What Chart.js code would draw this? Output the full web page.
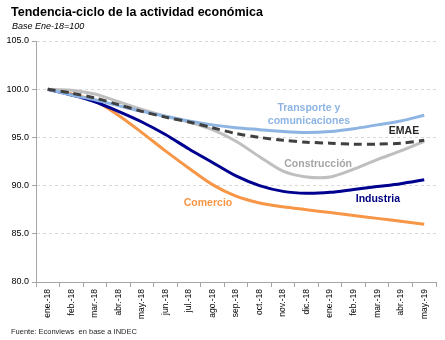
<!DOCTYPE html>
<html>
<head>
<meta charset="utf-8">
<script src="https://cdn.jsdelivr.net/npm/chart.js@4.4.1/dist/chart.umd.min.js"></script>
<style>
  html, body { margin: 0; padding: 0; background: #fff; }
  #wrap { width: 445px; height: 340px; }
</style>
</head>
<body>
<div id="wrap"><canvas id="chart" width="445" height="340"></canvas></div>
<script>
// meses
const months = ['ene.-18','feb.-18','mar.-18','abr.-18','may.-18','jun.-18','jul.-18','ago.-18',
  'sep.-18','oct.-18','nov.-18','dic.-18','ene.-19','feb.-19','mar.-19','abr.-19','may.-19'];

// series (base ene-18 = 100)
const emae        = [100, 99.6, 99.1, 98.4, 97.7, 97.1, 96.6, 96.0, 95.4, 95.0, 94.7, 94.5, 94.4, 94.3, 94.3, 94.4, 94.7];
const transporte  = [100, 99.4, 98.9, 98.3, 97.7, 97.2, 96.7, 96.3, 96.0, 95.8, 95.6, 95.5, 95.6, 95.9, 96.3, 96.7, 97.3];
const construccion= [100, 99.9, 99.5, 98.7, 97.9, 97.2, 96.6, 95.8, 94.6, 93.0, 91.5, 90.9, 90.9, 91.7, 92.7, 93.6, 94.6];
const industria   = [100, 99.4, 98.7, 97.7, 96.6, 95.3, 93.8, 92.4, 91.0, 90.0, 89.4, 89.2, 89.3, 89.6, 89.9, 90.2, 90.6];
const comercio    = [100, 99.5, 98.8, 97.3, 95.5, 93.6, 91.8, 90.1, 88.9, 88.2, 87.8, 87.5, 87.2, 86.9, 86.6, 86.3, 86.0];

const yTicks = [80, 85, 90, 95, 100, 105];

// etiquetas de las series (posicion en unidades del grafico)
const seriesLabels = [
  { text: ['Transporte y', 'comunicaciones'], x: 11.1, y: 98.05, color: '#8DB4E2' },
  { text: ['EMAE'], x: 15.14, y: 95.66, color: '#262626' },
  { text: ['Construcción'], x: 11.49, y: 92.24, color: '#A6A6A6' },
  { text: ['Comercio'], x: 6.81, y: 88.2, color: '#F79646' },
  { text: ['Industria'], x: 14.03, y: 88.6, color: '#000080' }
];

const FONT = "'Liberation Sans', Arial, sans-serif";

const textPlugin = {
  id: 'textos',
  afterDatasetsDraw(chart) {
    const ctx = chart.ctx;
    const xs = chart.scales.x, ys = chart.scales.y;
    ctx.save();
    ctx.textBaseline = 'middle';
    ctx.textAlign = 'center';
    ctx.font = 'bold 10.5px ' + FONT;
    seriesLabels.forEach(function(l) {
      const px = xs.getPixelForValue(l.x);
      const py = ys.getPixelForValue(l.y);
      l.text.forEach(function(t, i) {
        ctx.fillStyle = l.color;
        ctx.fillText(t, px, py + i * 12.7);
      });
    });
    ctx.restore();
  },
  afterDraw(chart) {
    const ctx = chart.ctx;
    ctx.save();
    ctx.textBaseline = 'middle';
    ctx.textAlign = 'left';
    ctx.fillStyle = '#000';
    ctx.font = 'bold 12.5px ' + FONT;
    ctx.fillText('Tendencia-ciclo de la actividad económica', 11, 13);
    ctx.font = 'italic 9px ' + FONT;
    ctx.fillText('Base Ene-18=100', 12, 26.5);
    ctx.font = '7.5px ' + FONT;
    ctx.fillStyle = '#1f1f1f';
    ctx.fillText('Fuente: Econviews  en base a INDEC', 11, 332);
    ctx.restore();
  }
};

function serie(label, data, color, dash) {
  return {
    label: label,
    data: data,
    borderColor: color,
    backgroundColor: color,
    borderWidth: 3,
    borderDash: dash || [],
    pointRadius: 0,
    tension: 0.3,
    fill: false
  };
}

const ctx = document.getElementById('chart').getContext('2d');
new Chart(ctx, {
  type: 'line',
  data: {
    labels: months,
    datasets: [
      serie('EMAE', emae, '#404040', [8, 5]),
      serie('Transporte y comunicaciones', transporte, '#8DB4E2'),
      serie('Construcción', construccion, '#BFBFBF'),
      serie('Industria', industria, '#000090'),
      serie('Comercio', comercio, '#F79646')
    ]
  },
  options: {
    responsive: false,
    animation: false,
    layout: { padding: { top: 41, right: 9, left: 0, bottom: 0 } },
    plugins: {
      legend: { display: false },
      tooltip: { enabled: false },
      title: { display: false }
    },
    scales: {
      x: {
        offset: true,
        grid: {
          offset: true,
          drawOnChartArea: false,
          drawTicks: true,
          tickLength: 5,
          color: '#a6a6a6'
        },
        border: { color: '#a6a6a6', width: 1 },
        ticks: {
          autoSkip: false,
          maxRotation: 90,
          minRotation: 90,
          padding: 2,
          color: '#000',
          font: { family: FONT, size: 8.5 }
        },
        afterFit: function(scale) { scale.height = 58; }
      },
      y: {
        min: 80,
        max: 105,
        afterBuildTicks: function(scale) {
          scale.ticks = yTicks.map(function(v) { return { value: v }; });
        },
        grid: {
          color: '#d9d9d9',
          tickColor: '#a6a6a6',
          tickLength: 4
        },
        border: { color: '#a6a6a6', width: 1, dash: [3, 3] },
        ticks: {
          padding: 3,
          color: '#000',
          font: { family: FONT, size: 9 },
          callback: function(v) { return Number(v).toFixed(1); }
        },
        afterFit: function(scale) { scale.width = 36; }
      }
    }
  },
  plugins: [textPlugin]
});
</script>
</body>
</html>
